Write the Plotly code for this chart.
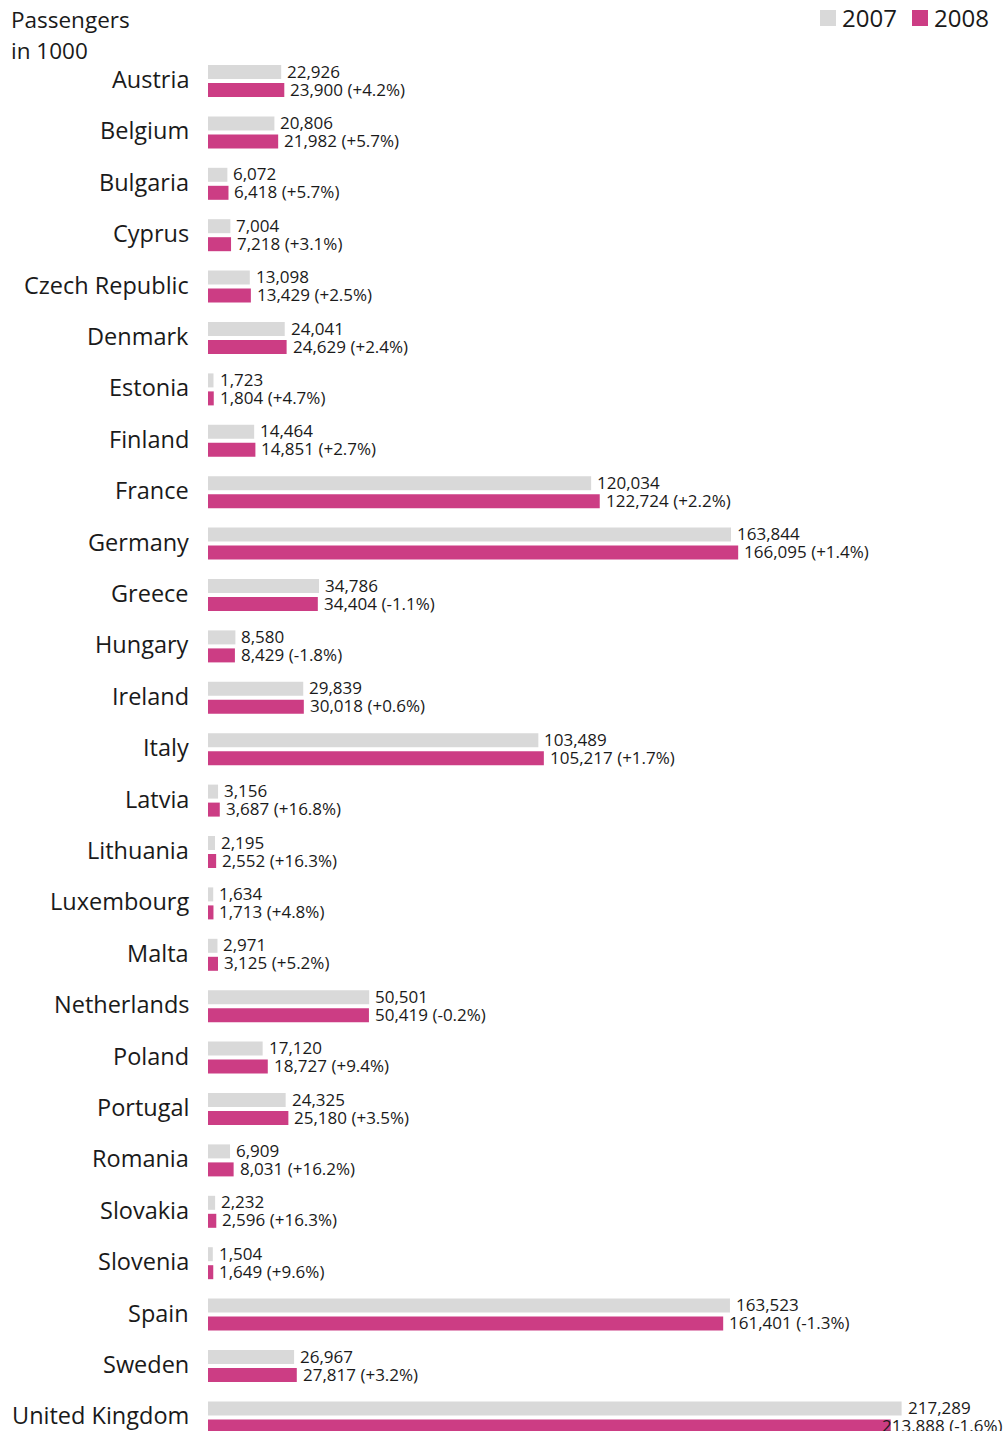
import plotly.graph_objects as go

# Air passengers by country, in thousands
countries = ["Austria", "Belgium", "Bulgaria", "Cyprus", "Czech Republic", "Denmark",
             "Estonia", "Finland", "France", "Germany", "Greece", "Hungary", "Ireland",
             "Italy", "Latvia", "Lithuania", "Luxembourg", "Malta", "Netherlands",
             "Poland", "Portugal", "Romania", "Slovakia", "Slovenia", "Spain", "Sweden",
             "United Kingdom"]
pax_2007 = [22926, 20806, 6072, 7004, 13098, 24041, 1723, 14464, 120034, 163844,
            34786, 8580, 29839, 103489, 3156, 2195, 1634, 2971, 50501, 17120, 24325,
            6909, 2232, 1504, 163523, 26967, 217289]
pax_2008 = [23900, 21982, 6418, 7218, 13429, 24629, 1804, 14851, 122724, 166095,
            34404, 8429, 30018, 105217, 3687, 2552, 1713, 3125, 50419, 18727, 25180,
            8031, 2596, 1649, 161401, 27817, 213888]
change_pct = ["+4.2", "+5.7", "+5.7", "+3.1", "+2.5", "+2.4", "+4.7", "+2.7", "+2.2",
              "+1.4", "-1.1", "-1.8", "+0.6", "+1.7", "+16.8", "+16.3", "+4.8", "+5.2",
              "-0.2", "+9.4", "+3.5", "+16.2", "+16.3", "+9.6", "-1.3", "+3.2", "-1.6"]
years = ["2007", "2008"]
caption_lines = ["Passengers", "in 1000"]

GREY = "#d9d9d9"
PINK = "#cc3d84"
INK = "#1a1a1a"
FONT = "Open Sans"

W, H = 1005, 1431
LEFT = 208
PX_PER_UNIT = 0.003192
PITCH = 51.4
FIRST_CENTER = 81

plot_w = W - LEFT
x_max = plot_w / PX_PER_UNIT
y_top = -FIRST_CENTER / PITCH
y_bottom = y_top + H / PITCH


def px_x(px):
    """Horizontal page pixel -> paper coordinate."""
    return (px - LEFT) / plot_w


def px_y(px):
    """Vertical page pixel (from top) -> paper coordinate."""
    return 1 - px / H


pos = list(range(len(countries)))
bar_w = 14 / PITCH
half_gap = 2 / PITCH

fig = go.Figure()
fig.add_trace(go.Bar(
    name=years[0], y=pos, x=pax_2007, orientation="h",
    marker=dict(color=GREY, line=dict(width=0)),
    width=bar_w, offset=-(bar_w + half_gap), showlegend=False,
))
fig.add_trace(go.Bar(
    name=years[1], y=pos, x=pax_2008, orientation="h",
    marker=dict(color=PINK, line=dict(width=0)),
    width=bar_w, offset=half_gap, showlegend=False,
))

val_font = dict(size=17, color=INK, family=FONT)
annotations = []
for i, (name, a, b, c) in enumerate(zip(countries, pax_2007, pax_2008, change_pct)):
    # country name, right-aligned against the bars
    annotations.append(dict(
        x=px_x(191), y=i, xref="paper", yref="y", text=name, showarrow=False,
        xanchor="right", yanchor="middle", yshift=2,
        font=dict(size=23.5, color=INK, family=FONT),
    ))
    annotations.append(dict(
        x=a, y=i - (bar_w / 2 + half_gap), xref="x", yref="y",
        text=f"{a:,}", showarrow=False, xanchor="left", yanchor="middle",
        xshift=4, yshift=1, font=val_font,
    ))
    label = f"{b:,} ({c}%)"
    # keep the label inside the page when the bar runs close to the right edge
    if LEFT + b * PX_PER_UNIT + 6 + 125 > W:
        annotations.append(dict(
            x=1, y=i + (bar_w / 2 + half_gap), xref="paper", yref="y",
            text=label, showarrow=False, xanchor="right", yanchor="middle",
            xshift=0, yshift=1, font=val_font,
        ))
    else:
        annotations.append(dict(
            x=b, y=i + (bar_w / 2 + half_gap), xref="x", yref="y",
            text=label, showarrow=False, xanchor="left", yanchor="middle",
            xshift=4, yshift=1, font=val_font,
        ))

# axis caption, two lines
for line, centre in zip(caption_lines, [19, 51]):
    annotations.append(dict(
        x=px_x(9), y=px_y(centre), xref="paper", yref="paper", text=line,
        showarrow=False, xanchor="left", yanchor="middle", align="left",
        font=dict(size=22.5, color=INK, family=FONT),
    ))

# legend: colour squares with year labels
shapes = []
for year, color, sq_left in zip(years, [GREY, PINK], [820, 912]):
    shapes.append(dict(
        type="rect", xref="paper", yref="paper",
        x0=px_x(sq_left), x1=px_x(sq_left + 16), y0=px_y(26), y1=px_y(10),
        fillcolor=color, line=dict(width=0),
    ))
    annotations.append(dict(
        x=px_x(sq_left + 20), y=px_y(18), xref="paper", yref="paper", text=year,
        showarrow=False, xanchor="left", yanchor="middle",
        font=dict(size=24, color=INK, family=FONT),
    ))

fig.update_layout(
    width=W, height=H,
    margin=dict(l=LEFT, r=0, t=0, b=0),
    paper_bgcolor="white", plot_bgcolor="white",
    barmode="overlay",
    showlegend=False,
    xaxis=dict(range=[0, x_max], visible=False, fixedrange=True),
    yaxis=dict(range=[y_bottom, y_top], visible=False, fixedrange=True),
    annotations=annotations,
    shapes=shapes,
    font=dict(family=FONT, color=INK),
)

fig.write_html("out.html")
